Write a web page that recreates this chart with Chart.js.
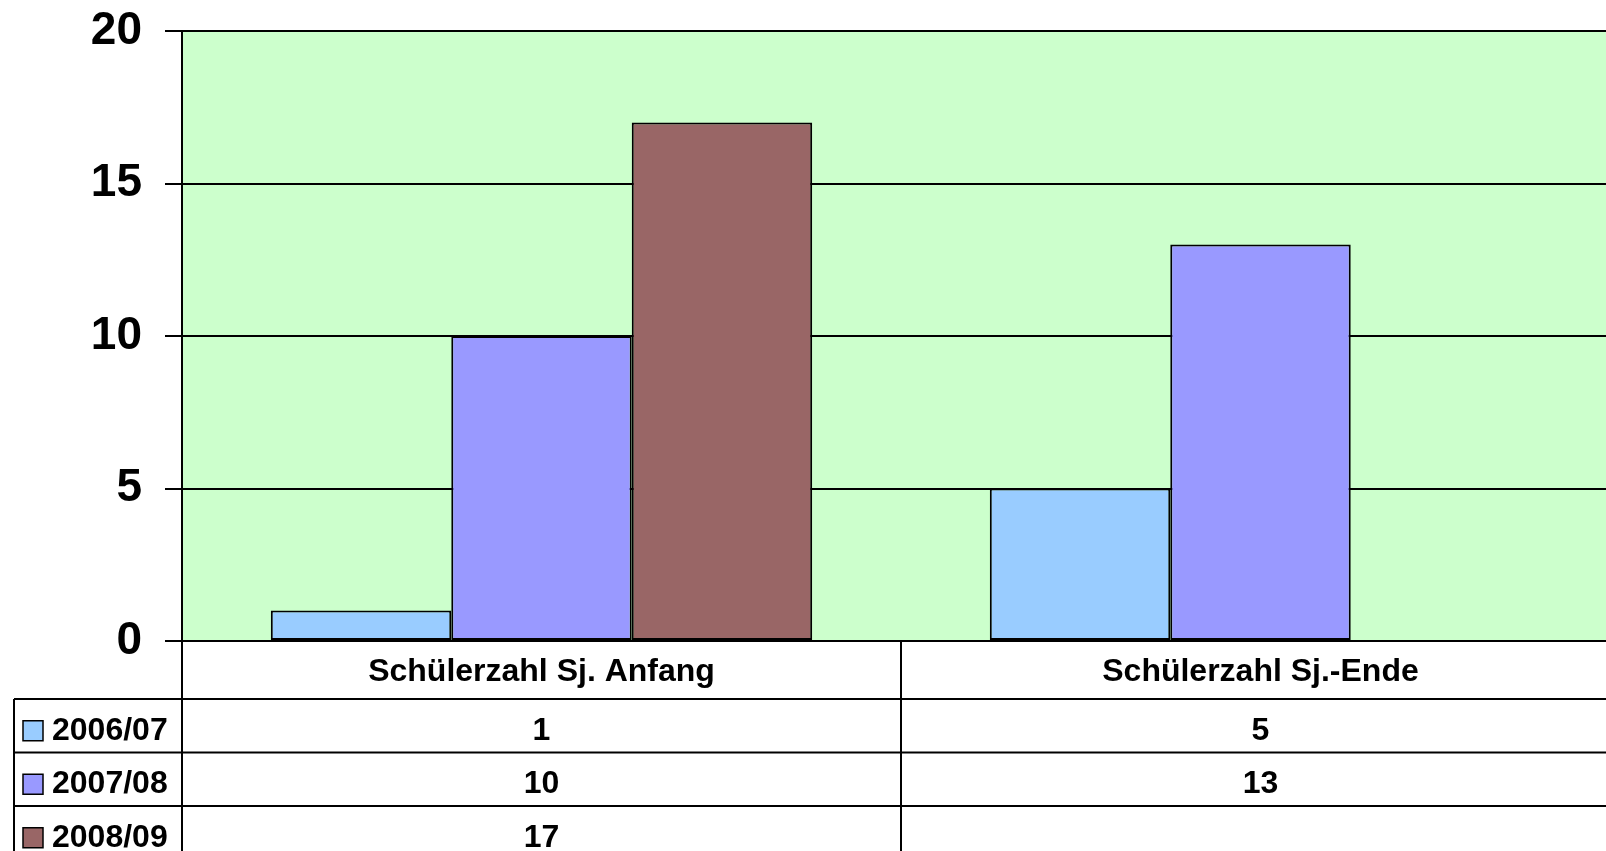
<!DOCTYPE html>
<html>
<head>
<meta charset="utf-8">
<script src="https://cdn.jsdelivr.net/npm/chart.js@4.4.0/dist/chart.umd.min.js"></script>
<style>
  html, body { margin: 0; padding: 0; background: #fff; overflow: hidden; }
  /* the plot runs a little past the right edge of the window, as in the original */
  #wrap { width: 1620px; height: 851px; }
</style>
</head>
<body>
<div id="wrap"><canvas id="schuelerChart"></canvas></div>
<script>
const categories = ['Schülerzahl Sj. Anfang', 'Schülerzahl Sj.-Ende'];
const years = ['2006/07', '2007/08', '2008/09'];
const values0607 = [1, 5];
const values0708 = [10, 13];
const values0809 = [17, null];
const yTicks = [0, 5, 10, 15, 20];
const colors = ['#99CCFF', '#9999FF', '#996666'];

const FONT = '"Liberation Sans", Arial, Helvetica, sans-serif';

// green plot background behind grid and bars
const plotBg = {
  id: 'plotBg',
  beforeDraw(chart) {
    const { ctx, chartArea: a } = chart;
    ctx.save();
    ctx.fillStyle = '#CCFFCC';
    ctx.fillRect(a.left, a.top, a.right - a.left, a.bottom - a.top);
    ctx.restore();
  }
};

// data table under the x axis (category row + one row per series)
const dataTable = {
  id: 'dataTable',
  afterDraw(chart) {
    const ctx = chart.ctx;
    const a = chart.chartArea;
    const xs = chart.scales.x;
    const headerH = 58;
    const rowTop = a.bottom + headerH;
    const rowH = 53.5;
    const tableLeft = 14;
    const right = chart.width;
    const bottom = chart.height;
    const centers = categories.map((c, i) => xs.getPixelForValue(i));
    const colSplit = (centers[0] + centers[1]) / 2;

    ctx.save();
    ctx.strokeStyle = '#000';
    ctx.lineWidth = 2;
    ctx.beginPath();
    // horizontal lines
    for (let r = 0; r < years.length; r++) {
      const y = rowTop + r * rowH;
      ctx.moveTo(tableLeft, y);
      ctx.lineTo(right, y);
    }
    // vertical lines
    ctx.moveTo(tableLeft, rowTop);
    ctx.lineTo(tableLeft, bottom);
    ctx.moveTo(a.left, a.bottom);
    ctx.lineTo(a.left, bottom);
    ctx.moveTo(colSplit, a.bottom);
    ctx.lineTo(colSplit, bottom);
    ctx.stroke();

    ctx.fillStyle = '#000';
    ctx.font = 'bold 32px ' + FONT;
    ctx.textBaseline = 'middle';
    ctx.textAlign = 'center';
    categories.forEach((c, i) => ctx.fillText(c, centers[i], a.bottom + headerH / 2 + 2));

    chart.data.datasets.forEach((ds, j) => {
      const cy = rowTop + j * rowH + rowH / 2 + 5;
      // legend key
      ctx.fillStyle = ds.backgroundColor;
      ctx.fillRect(23, cy - 10, 20, 20);
      ctx.lineWidth = 1.5;
      ctx.strokeRect(23, cy - 10, 20, 20);
      ctx.fillStyle = '#000';
      ctx.textAlign = 'left';
      ctx.fillText(ds.label, 52, cy);
      ctx.textAlign = 'center';
      ds.data.forEach((v, i) => {
        if (v !== null && v !== undefined) ctx.fillText(String(v), centers[i], cy);
      });
    });
    ctx.restore();
  }
};

const seriesValues = [values0607, values0708, values0809];

new Chart(document.getElementById('schuelerChart'), {
  type: 'bar',
  data: {
    labels: categories,
    datasets: years.map((y, i) => ({
      label: y,
      data: seriesValues[i],
      backgroundColor: colors[i],
      borderColor: '#000',
      borderWidth: 2,
      borderSkipped: false,
      barPercentage: 1,
      categoryPercentage: 0.753
    }))
  },
  options: {
    responsive: true,
    maintainAspectRatio: false,
    animation: false,
    layout: { padding: { top: 31, right: 0, bottom: 152, left: 0 } },
    plugins: {
      legend: { display: false },
      tooltip: { enabled: false }
    },
    scales: {
      x: {
        ticks: { display: false },
        grid: { display: false, drawTicks: false },
        border: { display: true, color: '#000', width: 2 },
        afterFit: s => { s.height = 58; }
      },
      y: {
        min: 0,
        max: 20,
        afterBuildTicks: s => { s.ticks = yTicks.map(v => ({ value: v })); },
        ticks: {
          color: '#000',
          padding: 23,
          font: { family: FONT, size: 46, weight: 'bold' }
        },
        grid: { color: '#000', lineWidth: 2, tickLength: 17, tickColor: '#000', tickWidth: 2 },
        border: { display: true, color: '#000', width: 2 },
        afterFit: s => { s.width = 182; s.paddingTop = 0; s.paddingBottom = 0; }
      }
    }
  },
  plugins: [plotBg, dataTable]
});
</script>
</body>
</html>
